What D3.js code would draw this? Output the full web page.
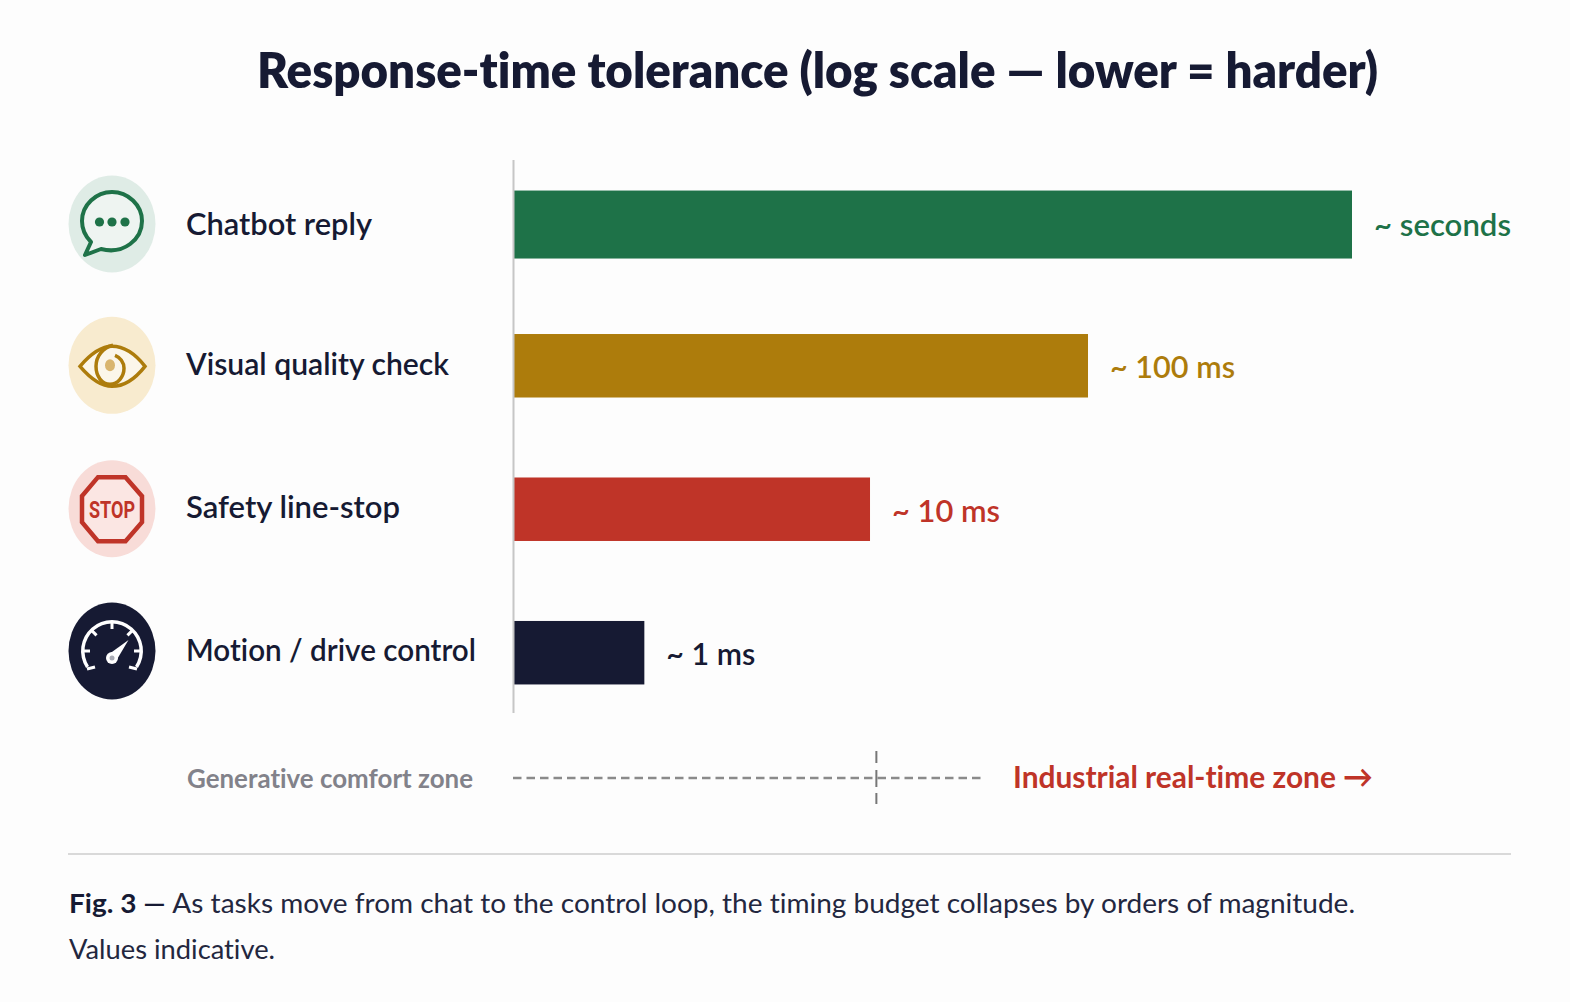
<!DOCTYPE html>
<html>
<head>
<meta charset="utf-8">
<script src="https://cdn.jsdelivr.net/npm/d3@7"></script>
<style>
  html, body { margin: 0; padding: 0; background: #fdfdfd; }
  svg { display: block; font-family: Lato, sans-serif; font-variant-ligatures: none; }
</style>
</head>
<body>
<div id="graph"></div>
<script>
var categories = ["Chatbot reply", "Visual quality check", "Safety line-stop", "Motion / drive control"];
var valuesMs = [1500, 98, 10.3, 1];
var valueLabels = ["~ seconds", "~ 100 ms", "~ 10 ms", "~ 1 ms"];
var barColors = ["#1e7248", "#ad7c0c", "#bf3428", "#161a33"];
var badgeColors = ["#dfece6", "#f8ebcf", "#f8dcd8", "#161a33"];
var zoneBoundaryMs = 11;

var width = 1570, height = 1002;
var ink = "#161a33";
var floorMs = 0.26;

var svg = d3.select("#graph").append("svg").attr("width", width).attr("height", height);

var xScale = d3.scaleLog().domain([floorMs, 1500]).range([514, 1352]);
var barScale = d3.scaleBand().domain(categories).range([147.5, 727.5]).paddingInner(0.5575).paddingOuter(0.3);
var rowScale = d3.scalePoint().domain(categories).range([224, 651]);

// squeeze a label to the width it has in the figure
function fit(sel, w) {
  return sel.attr("textLength", w).attr("lengthAdjust", "spacingAndGlyphs");
}

fit(svg.append("text")
  .attr("x", 257)
  .attr("y", 88)
  .attr("font-size", 50)
  .attr("font-weight", 800)
  .attr("fill", ink)
  .text("Response-time tolerance (log scale \u2014 lower = harder)"), 1121);

// bars, top one runs a little deeper in the figure
svg.append("g").selectAll("rect")
  .data(categories)
  .enter().append("rect")
  .attr("x", xScale(floorMs))
  .attr("y", function(d) { return barScale(d); })
  .attr("width", function(d, i) { return xScale(valuesMs[i]) - xScale(floorMs); })
  .attr("height", function(d, i) { return barScale.bandwidth() + (i == 0 ? 4.5 : 0); })
  .attr("fill", function(d, i) { return barColors[i]; });

// category axis, labels pulled left past the icons
var labelWidths = [186, 263, 214, 290];
var labelNudge = [0.5, -2, -1, 0];
var yAxis = d3.axisLeft(rowScale).tickSize(0);
var axisG = svg.append("g")
  .attr("transform", "translate(513,0)")
  .call(yAxis);
axisG.select(".domain").remove();
axisG.selectAll("text")
  .attr("x", 186 - 513)
  .attr("y", function(d, i) { return labelNudge[i]; })
  .attr("dy", "0.32em")
  .attr("text-anchor", "start")
  .attr("font-family", "Lato, sans-serif")
  .attr("font-size", 31)
  .attr("font-weight", 600)
  .attr("fill", ink)
  .attr("textLength", function(d, i) { return labelWidths[i]; })
  .attr("lengthAdjust", "spacingAndGlyphs");

svg.append("line")
  .attr("x1", 513.5).attr("x2", 513.5)
  .attr("y1", 160).attr("y2", 713)
  .attr("stroke", "#c6c6c6")
  .attr("stroke-width", 2);

// value labels
var valueWidths = [137, 125, 108, 89];
var valueNudge = [3, 1, 2, 1];
svg.append("g").selectAll("text")
  .data(categories)
  .enter().append("text")
  .attr("x", function(d, i) { return xScale(valuesMs[i]) + 22; })
  .attr("y", function(d, i) { return barScale(d) + barScale.bandwidth() / 2 + valueNudge[i]; })
  .attr("dy", "0.36em")
  .attr("font-size", 31)
  .attr("font-weight", 600)
  .attr("fill", function(d, i) { return barColors[i]; })
  .attr("textLength", function(d, i) { return valueWidths[i]; })
  .attr("lengthAdjust", "spacingAndGlyphs")
  .text(function(d, i) { return valueLabels[i]; });

// icon badges
var icons = svg.append("g");
icons.selectAll("ellipse")
  .data(categories)
  .enter().append("ellipse")
  .attr("cx", 112)
  .attr("cy", function(d) { return rowScale(d) + (d == categories[1] ? -1 : 0); })
  .attr("rx", 43.5)
  .attr("ry", 48.5)
  .attr("fill", function(d, i) { return badgeColors[i]; });

function drawChatIcon(g, c) {
  g.append("path")
    .attr("d", "M-21,20 L-27,33 L-11,27 C12,33 30,17 30,-1 C30,-17 16,-30 0,-30 C-16,-30 -30,-17 -30,-1 C-30,8 -27,14 -21,20 Z")
    .attr("fill", "#eef4f1")
    .attr("stroke", c)
    .attr("stroke-width", 4)
    .attr("stroke-linejoin", "round");
  g.selectAll("circle").data([-12.5, 0, 13]).enter().append("circle")
    .attr("cx", function(d) { return d; })
    .attr("cy", 0)
    .attr("r", 4.6)
    .attr("fill", c);
}

function drawEyeIcon(g, c) {
  g.append("path")
    .attr("d", "M-32,0 C-20,-14 -10,-20 0,-20 C10,-20 22,-14 33,0 C22,14 10,20 0,20 C-10,20 -20,14 -32,0 Z")
    .attr("fill", "#fbf6ea")
    .attr("stroke", c)
    .attr("stroke-width", 3.5);
  g.append("path")
    .attr("d", "M1,-21 C-9,-19 -16,-10 -16,0 C-16,10 -10,18 -2,18 C6,18 12,10 12,2 C12,-4 8,-9 3,-11")
    .attr("fill", "none")
    .attr("stroke", c)
    .attr("stroke-width", 3.5);
  g.append("ellipse").attr("cx", -2).attr("cy", -1).attr("rx", 5).attr("ry", 6).attr("fill", "#d9b56e");
}

function drawStopIcon(g, c) {
  var pts = [[-14,-32],[13.5,-32],[30,-13],[30,13],[13.5,32],[-14,32],[-30,13],[-30,-13]];
  g.append("polygon")
    .attr("points", pts.join(" "))
    .attr("fill", "#fbe6e3")
    .attr("stroke", c)
    .attr("stroke-width", 4.5);
  g.append("text")
    .attr("y", 9)
    .attr("text-anchor", "middle")
    .attr("font-family", "'Liberation Sans Narrow', Roboto, sans-serif")
    .attr("font-size", 24)
    .attr("font-weight", 700)
    .attr("textLength", 46)
    .attr("lengthAdjust", "spacingAndGlyphs")
    .attr("fill", c)
    .text("STOP");
}

function drawGaugeIcon(g) {
  var arc = d3.arc()
    .innerRadius(27.5).outerRadius(31)
    .startAngle(-2.15).endAngle(2.15);
  g.append("path").attr("d", arc()).attr("fill", "#fff");
  [-1.57, -0.78, 0, 0.78, 1.57].forEach(function(t) {
    g.append("line")
      .attr("x1", 29 * Math.sin(t)).attr("y1", -29 * Math.cos(t))
      .attr("x2", 22 * Math.sin(t)).attr("y2", -22 * Math.cos(t))
      .attr("stroke", "#fff").attr("stroke-width", 3);
  });
  // hooks at both ends of the dial
  g.append("line").attr("x1", -25).attr("y1", 18).attr("x2", -17).attr("y2", 16).attr("stroke", "#fff").attr("stroke-width", 3);
  g.append("line").attr("x1", 25).attr("y1", 18).attr("x2", 17).attr("y2", 16).attr("stroke", "#fff").attr("stroke-width", 3);
  g.append("path").attr("d", "M-3.5,3.5 L16.5,-11 L4,10 Z").attr("fill", "#fff");
  g.append("circle").attr("cx", 0).attr("cy", 7).attr("r", 6).attr("fill", "#fff");
  g.append("circle").attr("cx", 0).attr("cy", 7).attr("r", 2.5).attr("fill", "#a9abb5");
}

var iconDraw = [drawChatIcon, drawEyeIcon, drawStopIcon, drawGaugeIcon];
var iconOffset = [-2, 0, 0.5, 0];
categories.forEach(function(d, i) {
  var g = icons.append("g").attr("transform", "translate(112," + (rowScale(d) + iconOffset[i]) + ")");
  iconDraw[i](g, barColors[i]);
});

// zone row
fit(svg.append("text")
  .attr("x", 187).attr("y", 787.5)
  .attr("font-size", 26).attr("font-weight", 700)
  .attr("fill", "#82828a")
  .text("Generative comfort zone"), 286);

svg.append("line")
  .attr("x1", 513).attr("x2", 985)
  .attr("y1", 778).attr("y2", 778)
  .attr("stroke", "#8a8a8a").attr("stroke-width", 2.5)
  .attr("stroke-dasharray", "8.5 5");

svg.append("line")
  .attr("x1", xScale(zoneBoundaryMs)).attr("x2", xScale(zoneBoundaryMs))
  .attr("y1", 751).attr("y2", 804)
  .attr("stroke", "#777").attr("stroke-width", 2)
  .attr("stroke-dasharray", "12 7 17 6 11");

fit(svg.append("text")
  .attr("x", 1013).attr("y", 788)
  .attr("font-size", 31).attr("font-weight", 700)
  .attr("fill", "#bf3428")
  .text("Industrial real-time zone \u2192"), 360);

// caption
svg.append("line")
  .attr("x1", 68).attr("x2", 1511)
  .attr("y1", 854).attr("y2", 854)
  .attr("stroke", "#d9d9d9").attr("stroke-width", 2);

var caption = svg.append("text").attr("x", 69).attr("y", 913).attr("font-size", 27).attr("fill", "#23273f");
caption.append("tspan").attr("font-weight", 700).attr("fill", ink).text("Fig. 3 \u2014 ");
caption.append("tspan").text("As tasks move from chat to the control loop, the timing budget collapses by orders of magnitude.");
fit(caption, 1286);
fit(svg.append("text").attr("x", 69).attr("y", 959).attr("font-size", 27).attr("fill", "#23273f").text("Values indicative."), 206);
</script>
</body>
</html>
